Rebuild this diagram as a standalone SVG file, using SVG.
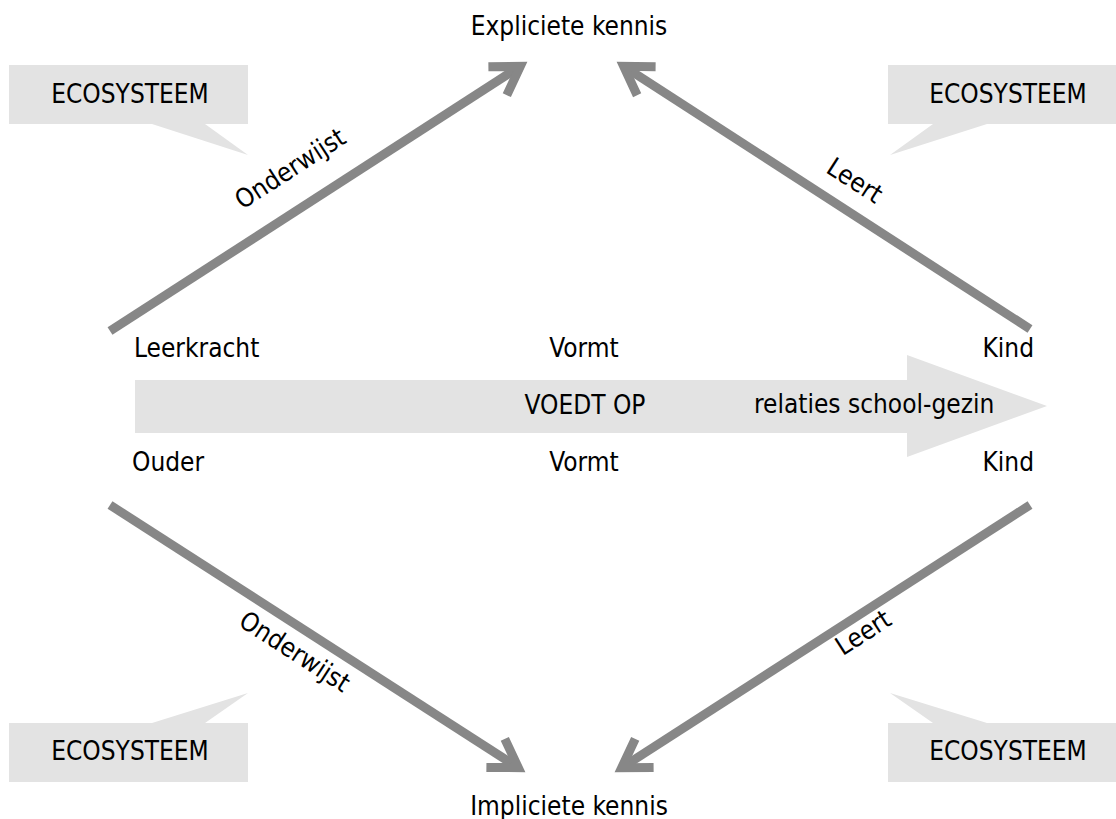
<svg xmlns="http://www.w3.org/2000/svg" width="1116" height="819" viewBox="0 0 1116 819">
<style>
text{font-family:"DejaVu Sans Condensed","DejaVu Sans",sans-serif;font-stretch:condensed;font-size:26px;fill:#000}
.c{text-anchor:middle}
.e{text-anchor:end}
.bub{fill:#e3e3e3}
.big{fill:#e3e3e3}
.ln{stroke:#878787;stroke-width:9;fill:none;marker-end:url(#chev)}
</style>
<defs>
<marker id="chev" markerUnits="userSpaceOnUse" orient="auto" refX="0" refY="0" viewBox="-40 -30 60 60" markerWidth="60" markerHeight="60" overflow="visible">
<path d="M-27 -17 L0 0 L-27 17" fill="none" stroke="#878787" stroke-width="9" stroke-linejoin="miter"/>
</marker>
</defs>
<rect width="1116" height="819" fill="#fff"/>
<g id="eco-tl"><path class="bub" d="M9 65 H248 V124 H205 L248 155 L152 124 H9 Z"/><text class="c" x="130" y="103">ECOSYSTEEM</text></g>
<g id="eco-tr"><path class="bub" d="M888 65 H1116 V124 H987 L890 155 L933 124 H888 Z"/><text class="c" x="1008" y="103">ECOSYSTEEM</text></g>
<g id="eco-bl"><path class="bub" d="M9 723 H152 L248 693 L205 723 H248 V782 H9 Z"/><text class="c" x="130" y="760">ECOSYSTEEM</text></g>
<g id="eco-br"><path class="bub" d="M888 723 H933 L890 693 L987 723 H1116 V782 H888 Z"/><text class="c" x="1008" y="760">ECOSYSTEEM</text></g>
<g id="voedt-op"><path class="big" d="M135 380 H907 V355 L1047 406 L907 457 V433 H135 Z"/><text class="c" x="585" y="414">VOEDT OP</text><text x="754" y="413">relaties school-gezin</text></g>
<g id="expliciet"><text class="c" x="569" y="35">Expliciete kennis</text></g>
<g id="impliciet"><text class="c" x="569" y="815">Impliciete kennis</text></g>
<g id="leerkracht"><text x="134" y="357">Leerkracht</text></g>
<g id="vormt1"><text class="c" x="584" y="357">Vormt</text></g>
<g id="kind1"><text class="e" x="1034" y="357">Kind</text></g>
<g id="ouder"><text x="132" y="471">Ouder</text></g>
<g id="vormt2"><text class="c" x="584" y="471">Vormt</text></g>
<g id="kind2"><text class="e" x="1034" y="471">Kind</text></g>
<g id="connectors">
<line class="ln" x1="110" y1="331" x2="520.3" y2="66.3"/>
<line class="ln" x1="1030" y1="329" x2="623.7" y2="66.3"/>
<line class="ln" x1="110" y1="505" x2="518.3" y2="767.7"/>
<line class="ln" x1="1030" y1="505" x2="621.7" y2="767.7"/>
<text class="c" transform="translate(295,176) rotate(-32.8)">Onderwijst</text>
<text class="c" transform="translate(850,188) rotate(32.9)">Leert</text>
<text class="c" transform="translate(290,659) rotate(32.8)">Onderwijst</text>
<text class="c" transform="translate(868,640) rotate(-32.8)">Leert</text>
</g>
</svg>
